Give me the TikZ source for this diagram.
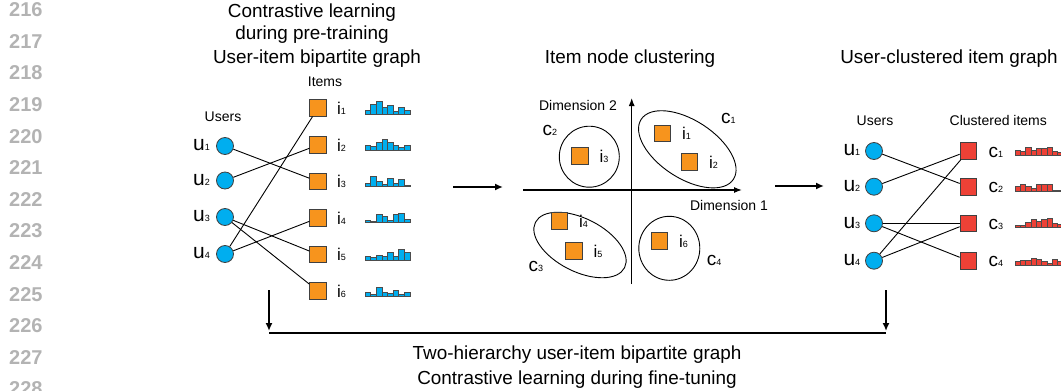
\documentclass[tikz,border=0pt]{standalone}
\usepackage{fontspec}
\setmainfont{Liberation Sans}
\usetikzlibrary{shapes.geometric,arrows.meta,calc}

\definecolor{userblue}{HTML}{00AEEF}
\definecolor{itemorange}{HTML}{F7941D}
\definecolor{clusterred}{HTML}{EE4136}
\definecolor{edgegrey}{HTML}{404040}
\definecolor{linenum}{HTML}{B3B3B3}

\newcommand{\fs}[1]{\fontsize{#1}{#1}\selectfont}
% big letter with a small index set on the baseline
\newcommand{\idx}[3]{{\fs{#1}#2}{\fs{9}#3}}
% bar chart: x0, baseline, bar width, fill colour, heights
\newcommand{\histo}[5]{%
  \foreach \h [count=\k from 0] in {#5}
    {\draw[histbar, fill=#4] ({#1+\k*#3},#2) rectangle ++(#3,-\h);}}

\tikzset{
  user/.style={circle, draw=edgegrey, fill=userblue, line width=0.8pt,
               minimum size=17, inner sep=0},
  item/.style={rectangle, draw=edgegrey, fill=itemorange, line width=0.8pt,
               minimum size=16.5, inner sep=0},
  citem/.style={item, fill=clusterred},
  link/.style={line width=0.9pt, black},
  flow/.style={line width=1.6pt, -{Latex[length=8pt,width=7pt]}},
  axisline/.style={line width=1.2pt, -{Latex[length=8pt,width=6pt]}},
  cluster/.style={ellipse, draw, line width=0.9pt, inner sep=0},
  title/.style={font=\fs{18.9}, anchor=base, inner sep=0},
  small/.style={font=\fs{14}, anchor=base, inner sep=0},
  lab/.style={anchor=base west, inner sep=0},
  histbar/.style={draw=black!70, line width=0.5pt},
  lineno/.style={font=\fs{20}\bfseries, text=linenum, anchor=base west, inner sep=0},
}

\begin{document}
\begin{tikzpicture}[x=1pt, y=-1pt]
\useasboundingbox (0,0) rectangle (1061,391);
\clip (0,0) rectangle (1061,391);

% line numbers of the page margin
\foreach \n [count=\k from 0] in {216,...,228}
  \node[lineno] (ln\n) at (9,{16.7+31.6*\k}) {\n};

% ---------- titles ----------
\node[title] (t1) at (312,17.5) {Contrastive learning};
\node[title] (t2) at (312,39.5) {during pre-training};
\node[title] (t3) at (317,63) {User-item bipartite graph};
\node[title] (t4) at (630,63) {Item node clustering};
\node[title] (t5) at (949,63.5) {User-clustered item graph};

% ---------- user-item bipartite graph ----------
\node[small] (usersL) at (223,121.5) {Users};
\node[small] (itemsL) at (325,86.5) {Items};

\foreach \k/\y in {1/146,2/180.5,3/217,4/254} {
  \node[user] (u\k) at (225,\y) {};
  \node[lab] (ul\k) at (193,\y+4.8) {\idx{21}{u}{\k}};
}
\foreach \k/\y in {1/108,2/145,3/181.5,4/218,5/254.5,6/291} {
  \node[item] (i\k) at (318,\y) {};
  \node[lab] (il\k) at (337,\y+6) {\idx{17}{i}{\k}};
}

\draw[link] (u1) -- (i3);
\draw[link] (u2) -- (i2);
\draw[link] (u3) -- (i5);
\draw[link] (u3) -- (i6);
\draw[link] (u4) -- (i1);
\draw[link] (u4) -- (i4);

\histo{365}{114}{5.6}{userblue}{4,9.5,12.5,6.5,8.5,3,6.5,4}
\histo{365}{150}{5.6}{userblue}{5,4,7.5,10.5,7.5,5,2.5,5}
\histo{365}{186.7}{5.6}{userblue}{3.5,10,5,2.5,8,3.5,7.5,1}
\histo{365}{222.7}{5.6}{userblue}{2.5,1.5,8.5,6,2.5,8.5,9.5,3.5}
\histo{365}{260.7}{5.6}{userblue}{4.5,3.5,5.5,4.5,8.5,4.5,11.5,8}
\histo{365}{296.7}{5.6}{userblue}{4.5,2.5,9.5,4.5,3.5,6.5,2.5,4.5}

% ---------- arrows between the panels ----------
\coordinate (a1s) at (453,187);
\coordinate (a1e) at (503,187);
\coordinate (a2s) at (775,186);
\coordinate (a2e) at (824,186);
\draw[flow] (a1s) -- (a1e);
\draw[flow] (a2s) -- (a2e);

% ---------- item node clustering ----------
\coordinate (ox) at (523,190);
\coordinate (xe) at (742,190);
\coordinate (oy) at (631.7,284);
\coordinate (ye) at (631.7,98);
\draw[axisline] (ox) -- (xe);
\draw[axisline] (oy) -- (ye);
\node[small] (dim2) at (578,110) {Dimension 2};
\node[small] (dim1) at (729,210) {Dimension 1};

\node[cluster, minimum width=110, minimum height=58, rotate=-33] (e1) at (687.3,149.3) {};
\node[cluster, minimum width=60, minimum height=61] (e2) at (589.3,156.7) {};
\node[cluster, minimum width=100, minimum height=53, rotate=-27] (e3) at (580,245) {};
\node[cluster, minimum width=61, minimum height=64] (e4) at (669.3,248.3) {};

\foreach \k/\x/\y in {1/662.3/133.3,2/689.3/161.7,3/580/156,4/559.3/220.7,5/574/250.7,6/659.3/241} {
  \node[item] (m\k) at (\x,\y) {};
  \node[lab] (ml\k) at (\x+19.5,\y+6.5) {\idx{17}{i}{\k}};
}
\node[lab] (cl1) at (721,123.3) {\idx{19}{c}{1}};
\node[lab] (cl2) at (542.3,135) {\idx{19}{c}{2}};
\node[lab] (cl3) at (528.3,271.7) {\idx{19}{c}{3}};
\node[lab] (cl4) at (706.7,265) {\idx{19}{c}{4}};

% ---------- user-clustered item graph ----------
\node[small] (usersR) at (875,125) {Users};
\node[small] (citemsR) at (998.3,125) {Clustered items};

\foreach \k/\y in {1/151,2/186.7,3/223.3,4/260.7} {
  \node[user] (v\k) at (874,\y) {};
  \node[lab] (vl\k) at (843.3,\y+4.8) {\idx{21}{u}{\k}};
  \node[citem] (c\k) at (968.3,\y) {};
  \node[lab] (cl\k r) at (988.3,\y+6) {\idx{19}{c}{\k}};
}

\draw[link] (v1) -- (c2);
\draw[link] (v2) -- (c1);
\draw[link] (v3) -- (c3);
\draw[link] (v3) -- (c4);
\draw[link] (v4) -- (c1);
\draw[link] (v4) -- (c3);

\histo{1015}{155}{5.3}{clusterred}{4.5,3.5,7.5,4.5,7,7,8,4,3}
\histo{1015}{191}{5.3}{clusterred}{4.5,7,5,2.5,7,7,7,1,1}
\histo{1015}{227}{5.3}{clusterred}{2,1.5,5,8,6,8,8.5,3.5,3}
\histo{1015}{265}{5.3}{clusterred}{4,5,5,7,5.5,4,2,5.5,4}

% ---------- two-hierarchy graph ----------
\coordinate (dl) at (269,290);
\coordinate (dlb) at (269,331);
\coordinate (dr) at (886,290);
\coordinate (drb) at (886,331);
\coordinate (hl) at (269,333);
\coordinate (hr) at (886,333);
\draw[flow] (dl) -- (dlb);
\draw[flow] (dr) -- (drb);
\draw[line width=2pt] (hl) -- (hr);

\node[title] (b1) at (577,359.5) {Two-hierarchy user-item bipartite graph};
\node[title] (b2) at (577,384.5) {Contrastive learning during fine-tuning};
\end{tikzpicture}
\end{document}
